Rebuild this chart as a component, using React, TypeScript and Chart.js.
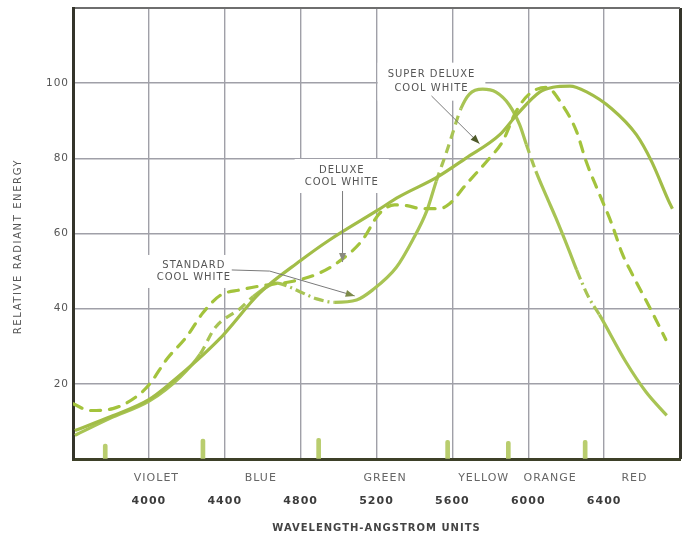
import React, { useEffect, useRef } from 'react';
import { Chart, registerables } from 'chart.js';

Chart.register(...registerables);

// ---- axis ticks ----
const wavelengthTicks = [3600, 4000, 4400, 4800, 5200, 5600, 6000, 6400, 6800];
const energyTicks = [0, 20, 40, 60, 80, 100, 120];

// ---- colour bands written under the axis ----
const bandNames = ['VIOLET', 'BLUE', 'GREEN', 'YELLOW', 'ORANGE', 'RED'];
const bandCenters = [4040, 4590, 5245, 5765, 6115, 6560];

// ---- Super Deluxe Cool White (solid) ----
const superDeluxeWl = [3610, 3800, 4000, 4110, 4370, 4585, 4800, 4950, 5200, 5320, 5520, 5670, 5850, 5940, 6060, 6130, 6220, 6310, 6440, 6570, 6650, 6740, 6760];
const superDeluxeVal = [7.6, 11.3, 15.8, 20, 31.8, 44.2, 52.8, 58.2, 66, 69.8, 75, 80, 86.3, 91.6, 97.6, 98.9, 99.2, 97.6, 93.2, 86.3, 79.2, 68.7, 66.6];

// ---- Deluxe Cool White (dashed) ----
const deluxeWl = [3600, 3690, 3810, 3940, 4005, 4095, 4200, 4285, 4375, 4480, 4620, 4760, 4900, 5020, 5125, 5215, 5295, 5360, 5440, 5530, 5585, 5675, 5795, 5865, 5935, 6005, 6095, 6180, 6255, 6305, 6375, 6440, 6495, 6545, 6655, 6725];
const deluxeVal = [14.7, 12.9, 13.4, 16.8, 20, 26.6, 32.6, 38.9, 43.5, 45, 46.3, 47.3, 49.5, 53.2, 58.2, 65.3, 67.6, 67.4, 66.6, 66.6, 67.9, 73.2, 80, 84.5, 92.4, 97.1, 98.9, 94.2, 87.1, 79.2, 70.5, 62.6, 54.7, 49.5, 38.9, 31.8];

// ---- Standard Cool White (dash-dot drawn) ----
const standardWl = [3610, 3795, 4005, 4165, 4270, 4350, 4480, 4550, 4675, 4740, 4810, 4885, 4980, 5095, 5180, 5305, 5390, 5465, 5515, 5570, 5600, 5645, 5690, 5760, 5830, 5900, 5955, 5990, 6040, 6095, 6145, 6215, 6255, 6320, 6375, 6515, 6620, 6730];
const standardVal = [6.3, 10.8, 15.5, 21.8, 27.9, 35.0, 40.0, 43.2, 46.8, 45.8, 44.2, 42.6, 41.7, 42.3, 45, 51, 58.2, 66, 73.9, 81.8, 86.5, 93.2, 97.1, 98.4, 97.6, 94.2, 88.9, 83.7, 76.6, 70, 64.2, 55.5, 50.3, 42.9, 38.4, 25.8, 17.9, 11.6];

// ---- short mercury line marks at the base ----
const mercuryWl = [3770, 4285, 4895, 5575, 5895, 6300];
const mercuryVal = [4, 5.3, 5.5, 5, 4.7, 5];

// line style of each segment of the standard curve (s = solid, d = dash, dd = dash-dot)
const standardSegStyle = [
  's', 's', 's', 's',
  'd', 'd', 'd',
  's',
  'dd', 'dd', 'dd', 'dd',
  's', 's', 's', 's', 's', 's',
  'd', 'd', 'd',
  's', 's', 's', 's', 's', 's',
  'd',
  's', 's', 's', 's',
  'dd', 'dd',
  's', 's', 's',
];
const dashPatterns: Record<string, number[]> = { s: [], d: [9, 6], dd: [10, 4, 2, 4] };

// ---- curve labels with their pointer arrows (data units: wavelength, energy) ----
const notes = [
  { lines: ['SUPER DELUXE', 'COOL WHITE'], at: [5490, 100.4], gap: 14, arrow: [[5490, 96.6], [5743, 83.9]], head: '#4f5a2a' },
  { lines: ['DELUXE', 'COOL WHITE'], at: [5017, 75.3], gap: 12, arrow: [[5021, 71.3], [5021, 52.4]], head: '#8a8a80' },
  { lines: ['STANDARD', 'COOL WHITE'], at: [4237, 49.9], gap: 11.5, arrow: [[4437, 50.3], [4637, 50], [5085, 43.4]], head: '#7d8a4a' },
];

const FONT = '"DejaVu Sans", "Liberation Sans", sans-serif';

const notesPlugin = {
  id: 'notes',
  beforeDraw(chart: any) {
    chart.ctx.letterSpacing = '1px';
  },
  beforeDatasetsDraw(chart: any) {
    const { ctx, scales } = chart;
    const x = scales.x;
    const y = scales.y;
    ctx.save();
    ctx.font = `10px ${FONT}`;
    ctx.letterSpacing = '1px';
    for (const n of notes) {
      const cx = x.getPixelForValue(n.at[0]);
      const cy = y.getPixelForValue(n.at[1]);
      const w = Math.max(...n.lines.map((l) => ctx.measureText(l).width));
      const h = n.lines.length * n.gap;
      ctx.fillStyle = '#ffffff';
      ctx.fillRect(cx - w / 2 - 10, cy - h / 2 - 5, w + 20, h + 10);
      ctx.fillStyle = '#555555';
      ctx.textAlign = 'center';
      ctx.textBaseline = 'middle';
      n.lines.forEach((l, i) => ctx.fillText(l, cx, cy - h / 2 + n.gap * (i + 0.5)));
    }
    ctx.restore();
  },
  afterDatasetsDraw(chart: any) {
    const { ctx, scales } = chart;
    const x = scales.x;
    const y = scales.y;
    ctx.save();
    for (const n of notes) {
      const pts = n.arrow.map((p) => [x.getPixelForValue(p[0]), y.getPixelForValue(p[1])]);
      ctx.strokeStyle = '#7a7a7a';
      ctx.lineWidth = 1;
      ctx.beginPath();
      pts.forEach((p, i) => (i === 0 ? ctx.moveTo(p[0], p[1]) : ctx.lineTo(p[0], p[1])));
      ctx.stroke();
      const a = pts[pts.length - 2];
      const b = pts[pts.length - 1];
      const ang = Math.atan2(b[1] - a[1], b[0] - a[0]);
      const L = 9;
      const W = 3.5;
      ctx.fillStyle = n.head;
      ctx.beginPath();
      ctx.moveTo(b[0], b[1]);
      ctx.lineTo(b[0] - L * Math.cos(ang) + W * Math.sin(ang), b[1] - L * Math.sin(ang) - W * Math.cos(ang));
      ctx.lineTo(b[0] - L * Math.cos(ang) - W * Math.sin(ang), b[1] - L * Math.sin(ang) + W * Math.cos(ang));
      ctx.closePath();
      ctx.fill();
    }
    ctx.restore();
  },
  afterDraw(chart: any) {
    const { ctx, chartArea } = chart;
    ctx.save();
    ctx.letterSpacing = '1.6px';
    ctx.font = `10px ${FONT}`;
    ctx.fillStyle = '#555555';
    ctx.translate(18, (chartArea.top + chartArea.bottom) / 2 + 13);
    ctx.rotate(-Math.PI / 2);
    ctx.textAlign = 'center';
    ctx.textBaseline = 'middle';
    ctx.fillText('RELATIVE RADIANT ENERGY', 0, 0);
    ctx.restore();
    ctx.letterSpacing = '0px';
  },
};

const GRID = '#a0a0a8';

export default function App() {
  const ref = useRef<HTMLCanvasElement | null>(null);

  useEffect(() => {
    const canvas = ref.current;
    if (!canvas) return;
    const chart = new Chart(canvas, {
      type: 'line',
      data: {
        datasets: [
          {
            label: 'Super Deluxe Cool White',
            data: superDeluxeWl.map((w, i) => ({ x: w, y: superDeluxeVal[i] })),
            borderColor: '#a2bd48',
            borderWidth: 3.2,
            pointRadius: 0,
            cubicInterpolationMode: 'monotone',
            fill: false,
            xAxisID: 'x',
            yAxisID: 'y',
          },
          {
            label: 'Deluxe Cool White',
            data: deluxeWl.map((w, i) => ({ x: w, y: deluxeVal[i] })),
            borderColor: '#a3c33c',
            borderWidth: 3.2,
            borderDash: [10, 9],
            borderCapStyle: 'round',
            pointRadius: 0,
            cubicInterpolationMode: 'monotone',
            fill: false,
            xAxisID: 'x',
            yAxisID: 'y',
          },
          {
            label: 'Standard Cool White',
            data: standardWl.map((w, i) => ({ x: w, y: standardVal[i] })),
            borderColor: '#a8c454',
            borderWidth: 3.2,
            pointRadius: 0,
            cubicInterpolationMode: 'monotone',
            fill: false,
            xAxisID: 'x',
            yAxisID: 'y',
            segment: {
              borderDash: (ctx: any) => dashPatterns[standardSegStyle[ctx.p0DataIndex] || 's'],
            },
          },
          {
            type: 'bar',
            label: 'Mercury lines',
            data: mercuryWl.map((w, i) => ({ x: w, y: mercuryVal[i] })),
            backgroundColor: '#b9cd6e',
            barThickness: 4,
            borderRadius: 2,
            xAxisID: 'x',
            yAxisID: 'y',
          } as any,
        ],
      },
      options: {
        responsive: false,
        animation: false,
        events: [],
        layout: { padding: { left: 0, top: 8, right: 3, bottom: 0 } },
        plugins: { legend: { display: false }, tooltip: { enabled: false } },
        scales: {
          x: {
            type: 'linear',
            position: 'bottom',
            min: 3600,
            max: 6800,
            offset: false,
            weight: 1,
            afterBuildTicks: (s: any) => {
              s.ticks = wavelengthTicks.map((value) => ({ value }));
            },
            afterFit: (s: any) => {
              s.height = 46;
              s.paddingLeft = 0;
              s.paddingRight = 0;
            },
            grid: {
              offset: false,
              drawTicks: false,
              color: (c: any) => (c.tick && c.tick.value === 6800 ? '#35352b' : GRID),
              lineWidth: (c: any) => (c.tick && c.tick.value === 6800 ? 3 : 1.4),
            },
            border: { display: false },
            ticks: {
              autoSkip: false,
              maxRotation: 0,
              padding: 6,
              color: '#3c3c3c',
              font: { family: FONT, size: 11, weight: 'bold' },
              callback: (v: any) => (v === 3600 || v === 6800 ? '' : String(v)),
            },
            title: {
              display: true,
              text: 'WAVELENGTH-ANGSTROM UNITS',
              color: '#444444',
              font: { family: FONT, size: 10, weight: 'bold' },
              padding: { top: 0, bottom: 1 },
            },
          },
          xBand: {
            type: 'linear',
            position: 'bottom',
            min: 3600,
            max: 6800,
            offset: false,
            weight: 0,
            afterBuildTicks: (s: any) => {
              s.ticks = bandCenters.map((value) => ({ value }));
            },
            afterFit: (s: any) => {
              s.height = 30;
              s.paddingLeft = 0;
              s.paddingRight = 0;
            },
            grid: { display: false, offset: false, drawTicks: false },
            border: { display: true, color: '#3d4028', width: 3 },
            ticks: {
              autoSkip: false,
              maxRotation: 0,
              padding: 13,
              color: '#666666',
              font: { family: FONT, size: 11 },
              callback: (_v: any, i: number) => bandNames[i],
            },
          },
          y: {
            type: 'linear',
            position: 'left',
            min: 0,
            max: 120,
            afterBuildTicks: (s: any) => {
              s.ticks = energyTicks.map((value) => ({ value }));
            },
            afterFit: (s: any) => {
              s.width = 73;
              s.paddingTop = 0;
              s.paddingBottom = 0;
            },
            grid: {
              drawTicks: false,
              color: (c: any) => (c.tick && c.tick.value === 120 ? '#6e6e6e' : GRID),
              lineWidth: (c: any) => (c.tick && c.tick.value === 120 ? 2 : 1.4),
            },
            border: { display: true, color: '#34342a', width: 3 },
            ticks: {
              padding: 4,
              color: '#555555',
              font: { family: FONT, size: 10.5 },
              callback: (v: any) => (v === 0 || v === 120 ? '' : String(v)),
            },
          },
        },
      } as any,
      plugins: [notesPlugin],
    });
    return () => chart.destroy();
  }, []);

  return (
    <div style={{ position: 'absolute', left: 0, top: 0, width: 683, height: 535, background: '#ffffff' }}>
      <canvas ref={ref} width={683} height={535} style={{ display: 'block' }} />
    </div>
  );
}
